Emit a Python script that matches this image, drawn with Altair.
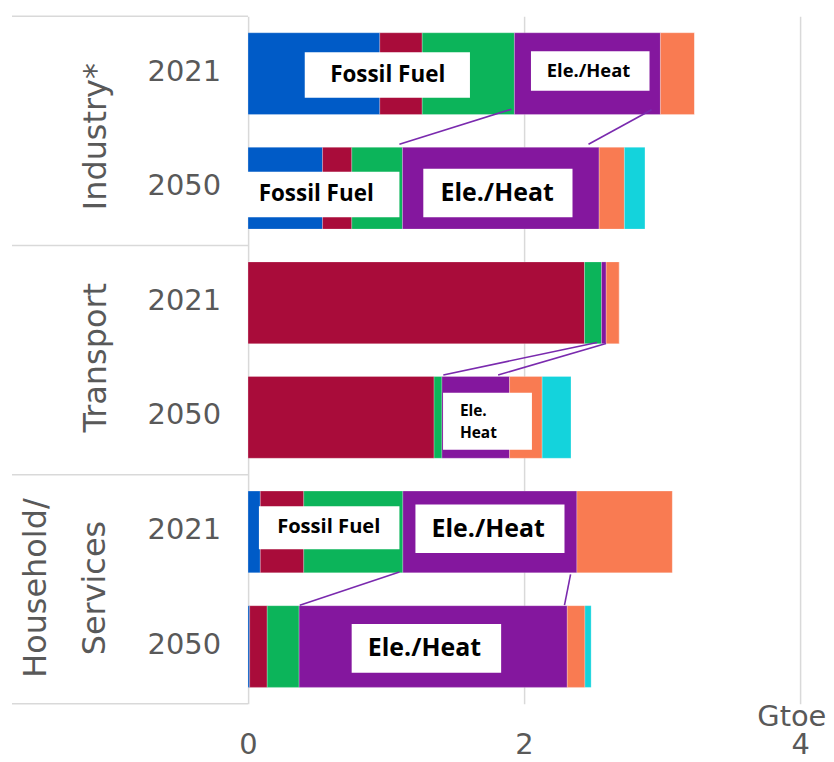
import altair as alt
import pandas as pd

# ---------------- data ----------------
sectors = ["Industry*", "Transport", "Household/Services"]
years = ["2021", "2050"]
fuels = ["Coal", "Oil", "Natural gas", "Electricity/Heat", "Bioenergy", "Hydrogen"]
fuel_colors = ["#005BC7", "#A90C3A", "#0CB45A", "#84179E", "#F97B52", "#14D3DC"]

industry_2021 = [0.955, 0.307, 0.668, 1.058, 0.247, 0.0]
industry_2050 = [0.540, 0.212, 0.367, 1.425, 0.183, 0.149]
transport_2021 = [0.0, 2.438, 0.123, 0.034, 0.095, 0.0]
transport_2050 = [0.0, 1.348, 0.057, 0.490, 0.236, 0.209]
household_2021 = [0.089, 0.315, 0.718, 1.261, 0.692, 0.0]
household_2050 = [0.012, 0.127, 0.231, 1.943, 0.128, 0.045]

x_ticks = [0, 2, 4]
unit_label = "Gtoe"

# ---------------- annotation layout (data units: x = Gtoe, y = row index) ----------------
sector_label_lines = [
    ("Industry*", -1.104, 1.05),
    ("Transport", -1.104, 2.98),
    ("Household/", -1.538, 4.99),
    ("Services", -1.112, 4.99),
]
separator_rows = [0, 2, 4, 6]
table_left = -1.71

boxes = [  # x, x2, y, y2
    (0.411, 1.608, 0.313, 0.710),
    (2.050, 2.909, 0.304, 0.650),
    (-0.007, 1.097, 1.357, 1.754),
    (1.270, 2.351, 1.330, 1.754),
    (1.413, 2.057, 3.284, 3.783),
    (0.079, 1.097, 4.276, 4.650),
    (1.213, 2.293, 4.261, 4.684),
    (0.751, 1.834, 5.304, 5.728),
]
box_texts = [  # text, x, y, font size
    ("Fossil Fuel", 1.012, 0.513, 22.5),
    ("Ele./Heat", 2.467, 0.476, 18.4),
    ("Fossil Fuel", 0.494, 1.555, 22.5),
    ("Ele./Heat", 1.805, 1.542, 25),
    ("Fossil Fuel", 0.585, 4.461, 20.2),
    ("Ele./Heat", 1.740, 4.472, 25),
    ("Ele./Heat", 1.278, 5.516, 25),
]
box_texts_left = [
    ("Ele.", 1.535, 3.443, 15.5),
    ("Heat", 1.535, 3.635, 15.5),
]
connectors = [  # x, y, x2, y2
    (1.908, 0.811, 1.097, 1.116),
    (2.924, 0.815, 2.467, 1.116),
    (2.529, 2.846, 1.415, 3.130),
    (2.594, 2.855, 1.812, 3.130),
    (1.097, 4.850, 0.375, 5.139),
    (2.337, 4.870, 2.293, 5.139),
]

# ---------------- build tables ----------------
series = {
    ("Industry*", "2021"): industry_2021,
    ("Industry*", "2050"): industry_2050,
    ("Transport", "2021"): transport_2021,
    ("Transport", "2050"): transport_2050,
    ("Household/Services", "2021"): household_2021,
    ("Household/Services", "2050"): household_2050,
}
row_keys = [f"{s}|{y}" for s in sectors for y in years]

bar_rows = []
for (s, y), vals in series.items():
    for i, (f, v) in enumerate(zip(fuels, vals)):
        bar_rows.append({"row": f"{s}|{y}", "fuel": f, "value": v, "order": i})
bars_df = pd.DataFrame(bar_rows)

year_df = pd.DataFrame([{"row": f"{s}|{y}", "year": y, "x": -0.195} for s in sectors for y in years])

GRAY = "#595959"
LINE = "#d9d9d9"
NUM_FONT = "DejaVu Sans"
BOX_FONT = "Open Sans"

XDOM = [-1.739, 4.0]
xscale = alt.Scale(domain=XDOM, nice=False, zero=False)
yband = alt.Scale(domain=row_keys, paddingInner=0.287, paddingOuter=0.1435)
yq = alt.Scale(domain=[0, 6], reverse=True, nice=False, zero=False)

bars = alt.Chart(bars_df).mark_bar(stroke="white", strokeWidth=0.4, strokeOpacity=0.6).encode(
    x=alt.X("value:Q", stack="zero", scale=xscale, title=None,
            axis=alt.Axis(values=x_ticks, format="d", grid=True, gridColor=LINE, gridWidth=1.5,
                          domain=False, ticks=False, labelFontSize=29, labelFont=NUM_FONT,
                          labelColor=GRAY, labelPadding=27, labelFlush=False)),
    y=alt.Y("row:N", scale=yband, axis=None, sort=row_keys),
    color=alt.Color("fuel:N", scale=alt.Scale(domain=fuels, range=fuel_colors), legend=None),
    order=alt.Order("order:Q"),
)

year_text = alt.Chart(year_df).mark_text(
    align="right", baseline="middle", font=NUM_FONT, fontSize=29, color=GRAY, dy=-2
).encode(
    x=alt.X("x:Q", scale=xscale, title=None),
    y=alt.Y("row:N", scale=yband, axis=None, sort=row_keys),
    text="year:N",
)

sep_df = pd.DataFrame([{"x": table_left, "x2": 0.0, "y": r} for r in separator_rows])
separators = alt.Chart(sep_df).mark_rule(color=LINE, strokeWidth=1.5).encode(
    x=alt.X("x:Q", scale=xscale, title=None), x2="x2:Q",
    y=alt.Y("y:Q", scale=yq, axis=None),
)

sec_df = pd.DataFrame([{"t": t, "x": x, "y": y} for t, x, y in sector_label_lines])
sector_text = alt.Chart(sec_df).mark_text(
    angle=270, align="center", baseline="middle", font=NUM_FONT, fontSize=32, color=GRAY
).encode(
    x=alt.X("x:Q", scale=xscale, title=None),
    y=alt.Y("y:Q", scale=yq, axis=None),
    text="t:N",
)

con_df = pd.DataFrame([{"x": a, "y": b, "x2": c, "y2": d} for a, b, c, d in connectors])
connector_lines = alt.Chart(con_df).mark_rule(color="#7A2AAE", strokeWidth=1.6).encode(
    x=alt.X("x:Q", scale=xscale, title=None), x2="x2:Q",
    y=alt.Y("y:Q", scale=yq, axis=None), y2="y2:Q",
)

box_df = pd.DataFrame([{"x": a, "x2": b, "y": c, "y2": d} for a, b, c, d in boxes])
box_rects = alt.Chart(box_df).mark_rect(color="white").encode(
    x=alt.X("x:Q", scale=xscale, title=None), x2="x2:Q",
    y=alt.Y("y:Q", scale=yq, axis=None), y2="y2:Q",
)

bt_df = pd.DataFrame([{"t": t, "x": x, "y": y, "s": s} for t, x, y, s in box_texts])
box_labels = alt.Chart(bt_df).mark_text(
    align="center", baseline="middle", font=BOX_FONT, fontWeight="bold", color="black"
).encode(
    x=alt.X("x:Q", scale=xscale, title=None),
    y=alt.Y("y:Q", scale=yq, axis=None),
    text="t:N",
    size=alt.Size("s:Q", scale=None, legend=None),
)

btl_df = pd.DataFrame([{"t": t, "x": x, "y": y, "s": s} for t, x, y, s in box_texts_left])
box_labels_left = alt.Chart(btl_df).mark_text(
    align="left", baseline="middle", font=BOX_FONT, fontWeight="bold", color="black"
).encode(
    x=alt.X("x:Q", scale=xscale, title=None),
    y=alt.Y("y:Q", scale=yq, axis=None),
    text="t:N",
    size=alt.Size("s:Q", scale=None, legend=None),
)

unit_df = pd.DataFrame([{"t": unit_label, "x": 3.94, "y": 6.115}])
unit_text = alt.Chart(unit_df).mark_text(
    align="center", baseline="middle", font=NUM_FONT, fontSize=29, color=GRAY
).encode(
    x=alt.X("x:Q", scale=xscale, title=None),
    y=alt.Y("y:Q", scale=yq, axis=None),
    text="t:N",
)

chart = alt.layer(
    bars, year_text, separators, sector_text, connector_lines,
    box_rects, box_labels, box_labels_left, unit_text,
).resolve_scale(y="independent").properties(
    width=795, height=690,
    padding={"left": 0, "top": 7, "right": 26, "bottom": 55},
    autosize=alt.AutoSizeParams(type="none"),
    background="white",
).configure_view(stroke=None)

chart.save("out.html", embed_options={"renderer": "svg", "actions": False})
